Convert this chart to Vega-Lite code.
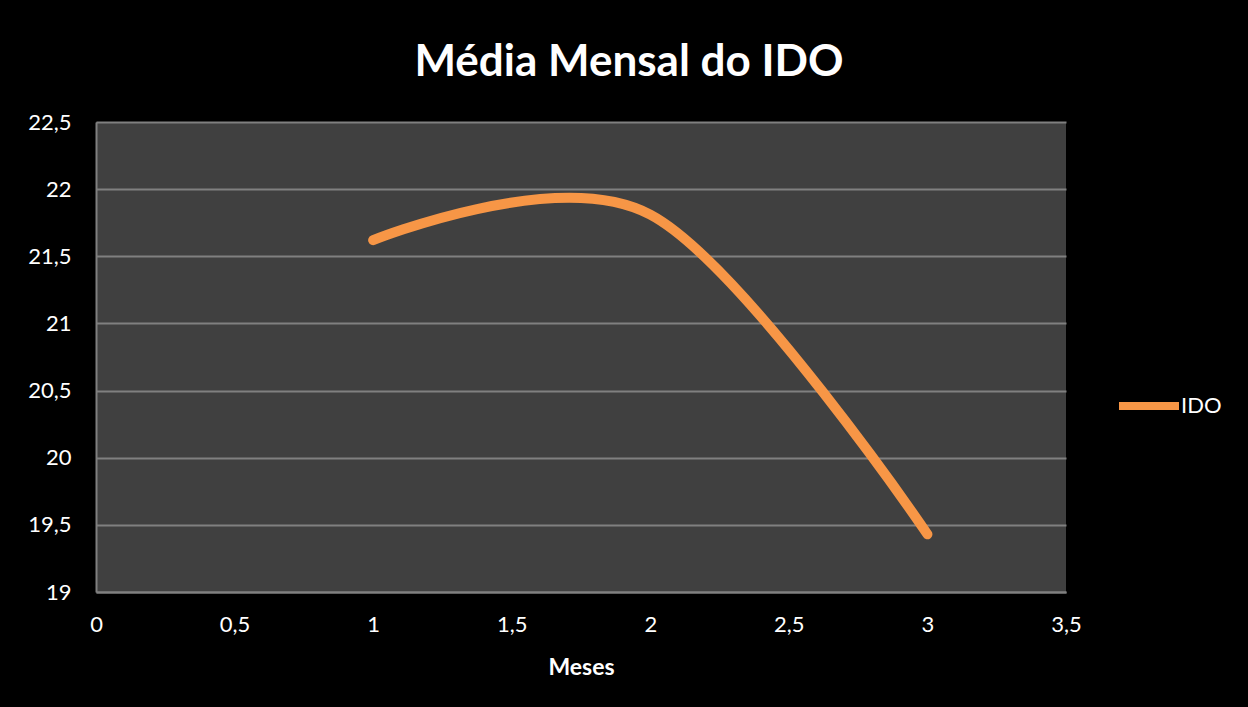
{
  "$schema": "https://vega.github.io/schema/vega-lite/v6.json",
  "width": 970,
  "height": 470,
  "autosize": {"type": "none"},
  "padding": {"left": 96, "top": 122, "right": 182, "bottom": 115},
  "background": "#000000",
  "title": {
    "text": "Média Mensal do IDO",
    "font": "Lato",
    "fontSize": 44,
    "fontWeight": "bold",
    "color": "#FFFFFF",
    "anchor": "middle",
    "frame": "group",
    "dx": 48,
    "offset": 26
  },
  "config": {
    "view": {"fill": "#404040", "stroke": null},
    "font": "Lato"
  },
  "data": {
    "values": [
      {"mes": 1, "ido": 21.62, "serie": "IDO"},
      {"mes": 2, "ido": 21.81, "serie": "IDO"},
      {"mes": 3, "ido": 19.43, "serie": "IDO"}
    ]
  },
  "mark": {
    "type": "line",
    "interpolate": "cardinal",
    "tension": 0,
    "strokeWidth": 10,
    "strokeCap": "round",
    "strokeJoin": "round"
  },
  "encoding": {
    "x": {
      "field": "mes",
      "type": "quantitative",
      "scale": {"domain": [0, 3.5], "nice": false, "zero": false},
      "axis": {
        "title": "Meses",
        "titleFont": "Lato",
        "titleFontSize": 23,
        "titleFontWeight": "bold",
        "titleColor": "#FFFFFF",
        "titlePadding": 21,
        "values": [0, 0.5, 1, 1.5, 2, 2.5, 3, 3.5],
        "labelExpr": "replace(datum.value + '', '.', ',')",
        "labelFont": "Lato",
        "labelFontSize": 22,
        "labelColor": "#FFFFFF",
        "labelPadding": 22,
        "labelFlush": false,
        "ticks": false,
        "tickSize": 0,
        "grid": false,
        "domain": true,
        "domainColor": "#808080",
        "domainWidth": 2
      }
    },
    "y": {
      "field": "ido",
      "type": "quantitative",
      "scale": {"domain": [19, 22.5], "nice": false, "zero": false},
      "axis": {
        "title": null,
        "values": [19, 19.5, 20, 20.5, 21, 21.5, 22, 22.5],
        "labelExpr": "replace(datum.value + '', '.', ',')",
        "labelFont": "Lato",
        "labelFontSize": 22,
        "labelColor": "#FFFFFF",
        "labelPadding": 25,
        "labelFlush": false,
        "ticks": false,
        "tickSize": 0,
        "grid": true,
        "gridColor": "#808080",
        "gridWidth": 2,
        "domain": true,
        "domainColor": "#808080",
        "domainWidth": 2
      }
    },
    "color": {
      "field": "serie",
      "type": "nominal",
      "scale": {"domain": ["IDO"], "range": ["#F79646"]},
      "legend": {
        "title": null,
        "orient": "none",
        "legendX": 1019,
        "legendY": 250,
        "symbolType": "stroke",
        "symbolSize": 3600,
        "symbolStrokeWidth": 8,
        "labelFont": "Lato",
        "labelFontSize": 22,
        "labelColor": "#FFFFFF",
        "labelOffset": -2
      }
    }
  }
}
